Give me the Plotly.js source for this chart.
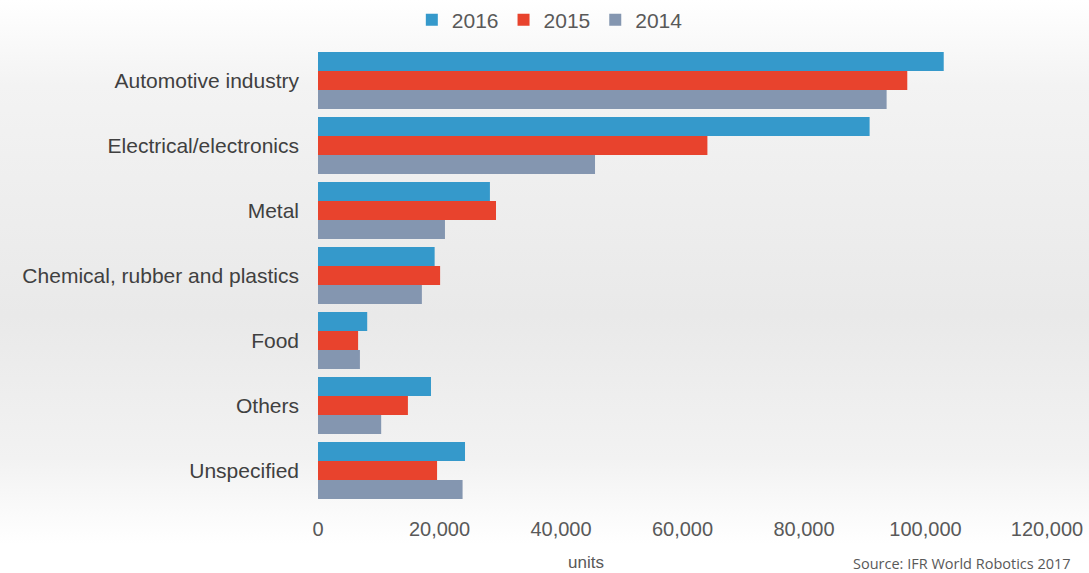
<!DOCTYPE html>
<html>
<head>
<meta charset="utf-8">
<script src="https://cdn.plot.ly/plotly-3.0.1.min.js"></script>
<style>
  html, body { margin: 0; padding: 0; }
  #chart {
    width: 1089px; height: 573px;
    background: linear-gradient(to bottom, #ffffff 0%, #f3f3f3 15%, #e9e9e9 55%, #f2f2f2 80%, #ffffff 95%);
  }
</style>
</head>
<body>
<div id="chart"></div>
<script>
const categories = ["Automotive industry", "Electrical/electronics", "Metal", "Chemical, rubber and plastics", "Food", "Others", "Unspecified"];
const values2016 = [103000, 90800, 28300, 19200, 8100, 18600, 24200];
const values2015 = [97000, 64100, 29300, 20100, 6600, 14800, 19600];
const values2014 = [93600, 45600, 20900, 17100, 6900, 10400, 23800];
const tickVals = [0, 20000, 40000, 60000, 80000, 100000, 120000];
const tickText = ["0", "20,000", "40,000", "60,000", "80,000", "100,000", "120,000"];

const mk = (name, vals, color) => ({
  type: 'bar', orientation: 'h', name: name,
  x: vals, y: categories,
  marker: { color: color },
  hoverinfo: 'x+name'
});

const data = [
  mk('2016', values2016, '#3599cb'),
  mk('2015', values2015, '#e8432d'),
  mk('2014', values2014, '#8496b0')
];

const layout = {
  width: 1089, height: 573,
  paper_bgcolor: 'rgba(0,0,0,0)',
  plot_bgcolor: 'rgba(0,0,0,0)',
  font: { family: 'Liberation Sans, Arial, sans-serif', color: '#595959' },
  margin: { l: 318, r: 42, t: 48, b: 70, pad: 0, autoexpand: false },
  barmode: 'group',
  bargap: 0.12,
  bargroupgap: 0,
  showlegend: true,
  legend: {
    orientation: 'h', x: 0.318, xanchor: 'center',
    yref: 'container', y: 0.965, yanchor: 'middle',
    font: { size: 21, color: '#595959' },
    itemwidth: 30, tracegroupgap: 0, bgcolor: 'rgba(0,0,0,0)'
  },
  xaxis: {
    range: [0, 120000],
    tickvals: tickVals, ticktext: tickText,
    showgrid: false, zeroline: false, showline: false,
    ticks: '', tickfont: { size: 20, color: '#595959' },
    ticklabelstandoff: 12
  },
  yaxis: {
    autorange: 'reversed',
    showgrid: false, zeroline: false, showline: false,
    ticks: '', tickfont: { size: 21, color: '#404040' },
    ticklabelstandoff: 18
  },
  annotations: [
    { text: 'units', xref: 'paper', yref: 'paper', x: 0.367, y: -0.106, xanchor: 'center', yanchor: 'top',
      showarrow: false, font: { size: 17, color: '#595959' } },
    { text: 'Source: IFR World Robotics 2017', xref: 'paper', yref: 'paper', x: 1.035, y: -0.108, xanchor: 'right', yanchor: 'top',
      showarrow: false, font: { size: 14.5, color: '#595959', family: 'Open Sans, sans-serif' } }
  ]
};

Plotly.newPlot('chart', data, layout, { displayModeBar: false });
</script>
</body>
</html>
